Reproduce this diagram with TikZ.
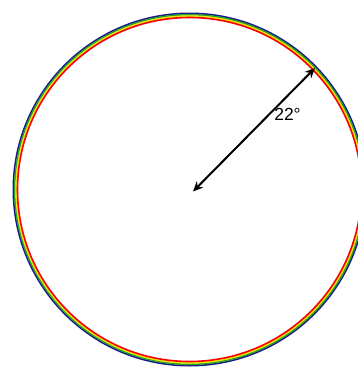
\documentclass[tikz,border=0pt]{standalone}
\usepackage{fontspec}
\setmainfont{Liberation Sans}
\usetikzlibrary{arrows.meta}
\definecolor{rbBlue}{RGB}{25,25,140}
\definecolor{rbGreen}{RGB}{40,160,40}
\definecolor{rbYellow}{RGB}{235,230,0}
\definecolor{rbRed}{RGB}{250,0,0}
\tikzset{
  band/.style={line width=1.6pt},
  measure/.style={line width=2pt, {Stealth[length=10pt,width=9pt]}-{Stealth[length=10pt,width=9pt]}},
  angletext/.style={font=\fontsize{17.5}{17.5}\selectfont, inner sep=0pt}
}
\begin{document}
\begin{tikzpicture}[x=1pt,y=-1pt]
\useasboundingbox (0,0) rectangle (358,367);
\clip (0,0) rectangle (358,367);
\fill[white] (0,0) rectangle (358,367);
\coordinate (c) at (189.5,189.5);
\coordinate (e) at (315,68);
\draw[band, rbBlue]   (c) circle[radius=176.2];
\draw[band, rbGreen]  (c) circle[radius=174.8];
\draw[band, rbYellow] (c) circle[radius=173.4];
\draw[band, rbRed]    (c) circle[radius=172.0];
\coordinate (s) at (193,191.5);
\draw[measure] (s) -- (e);
\node[angletext] (lbl) at (287.5,114.5) {22°};
\end{tikzpicture}
\end{document}
